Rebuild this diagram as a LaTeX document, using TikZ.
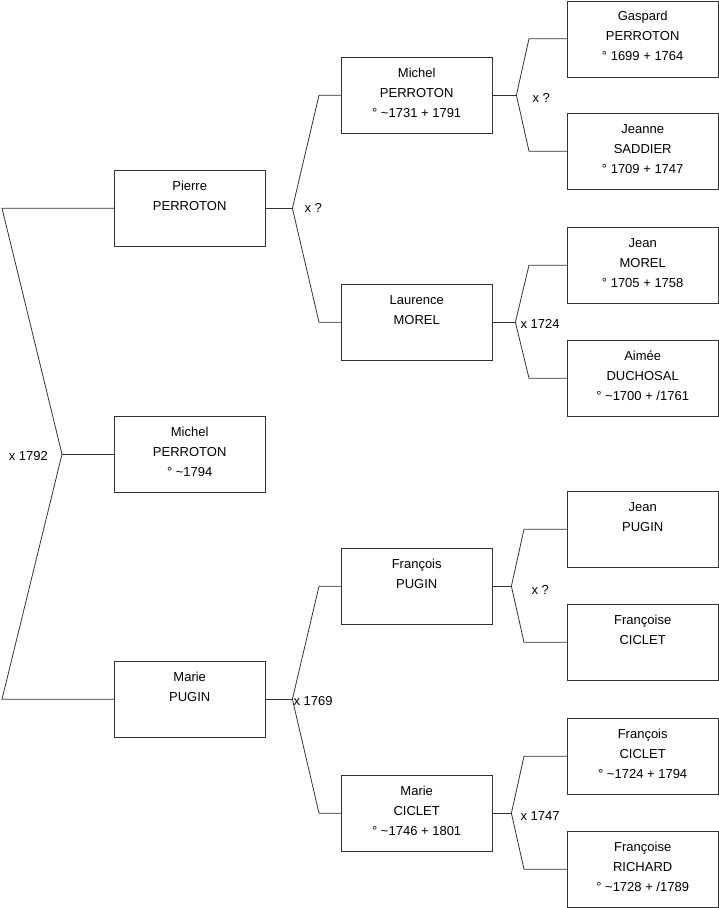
\documentclass[tikz,border=0pt]{standalone}
\usepackage{fontspec}
\setmainfont{Liberation Sans}
\usetikzlibrary{positioning,calc}
\tikzset{
  person/.style={rectangle, draw=black!80, fill=white, minimum width=151pt, minimum height=76pt,
    inner sep=0pt, align=center, anchor=north west, font=\fontsize{13}{20}\selectfont},
  link/.style={draw=black!80, line width=0.8pt},
  union/.style={font=\fontsize{13}{15}\selectfont, inner sep=0pt, anchor=west},
}

\begin{document}
\begin{tikzpicture}[x=1pt, y=-1pt]
  \useasboundingbox (0,0) rectangle (719,908);
  % child and parents
  \node[person] (pierre) at (114,170) {Pierre\\PERROTON\\\mbox{}\\[-15pt]};
  \node[person] (michel) at (114,416) {Michel\\PERROTON\\° \textasciitilde 1794\\[-15pt]};
  \node[person] (marie) at (114,661) {Marie\\PUGIN\\\mbox{}\\[-15pt]};
  % grandparents
  \node[person] (michelP) at (341,57) {Michel\\PERROTON\\° \textasciitilde 1731 + 1791\\[-15pt]};
  \node[person] (laurence) at (341,284) {Laurence\\MOREL\\\mbox{}\\[-15pt]};
  \node[person] (francoisP) at (341,548) {François\\PUGIN\\\mbox{}\\[-15pt]};
  \node[person] (marieC) at (341,775) {Marie\\CICLET\\° \textasciitilde 1746 + 1801\\[-15pt]};
  % great-grandparents
  \node[person] (gaspard) at (567,0.5) {Gaspard\\PERROTON\\° 1699 + 1764\\[-15pt]};
  \node[person] (jeanne) at (567,113) {Jeanne\\SADDIER\\° 1709 + 1747\\[-15pt]};
  \node[person] (jeanM) at (567,227) {Jean\\MOREL\\° 1705 + 1758\\[-15pt]};
  \node[person] (aimee) at (567,340) {Aimée\\DUCHOSAL\\° \textasciitilde 1700 + /1761\\[-15pt]};
  \node[person] (jeanP) at (567,491) {Jean\\PUGIN\\\mbox{}\\[-15pt]};
  \node[person] (francoiseC) at (567,604) {Françoise\\CICLET\\\mbox{}\\[-15pt]};
  \node[person] (francoisC) at (567,718) {François\\CICLET\\° \textasciitilde 1724 + 1794\\[-15pt]};
  \node[person] (francoiseR) at (567,831) {Françoise\\RICHARD\\° \textasciitilde 1728 + /1789\\[-15pt]};

  % forks
  \draw[link] (pierre.west) -- ++(-112,0) -- ($(michel.west)+(-52,0)$) coordinate (fRoot)
    -- ($(marie.west)+(-112,0)$) -- (marie.west);
  \draw[link] (fRoot) -- (michel.west);
  \node[union, anchor=east] (uRoot) at ($(fRoot)+(-14,2)$) {x 1792};

  \draw[link] (michelP.west) -- ++(-22,0) -- ($(pierre.east)+(27,0)$) coordinate (fPierre)
    -- ($(laurence.west)+(-22,0)$) -- (laurence.west);
  \draw[link] (pierre.east) -- (fPierre);
  \node[union] (uPierre) at ($(fPierre)+(12,0)$) {x ?};

  \draw[link] (francoisP.west) -- ++(-22,0) -- ($(marie.east)+(27,0)$) coordinate (fMarie)
    -- ($(marieC.west)+(-22,0)$) -- (marieC.west);
  \draw[link] (marie.east) -- (fMarie);
  \node[union] (uMarie) at ($(fMarie)+(1,2)$) {x 1769};

  \draw[link] (gaspard.west) -- ++(-38,0) -- ($(michelP.east)+(24,0)$) coordinate (fMichelP)
    -- ($(jeanne.west)+(-38,0)$) -- (jeanne.west);
  \draw[link] (michelP.east) -- (fMichelP);
  \node[union] (uMichelP) at ($(fMichelP)+(16,3)$) {x ?};

  \draw[link] (jeanM.west) -- ++(-38,0) -- ($(laurence.east)+(23,0)$) coordinate (fLaurence)
    -- ($(aimee.west)+(-38,0)$) -- (aimee.west);
  \draw[link] (laurence.east) -- (fLaurence);
  \node[union] (uLaurence) at ($(fLaurence)+(5,2)$) {x 1724};

  \draw[link] (jeanP.west) -- ++(-43,0) -- ($(francoisP.east)+(19,0)$) coordinate (fFrancoisP)
    -- ($(francoiseC.west)+(-43,0)$) -- (francoiseC.west);
  \draw[link] (francoisP.east) -- (fFrancoisP);
  \node[union] (uFrancoisP) at ($(fFrancoisP)+(20,4)$) {x ?};

  \draw[link] (francoisC.west) -- ++(-43,0) -- ($(marieC.east)+(19,0)$) coordinate (fMarieC)
    -- ($(francoiseR.west)+(-43,0)$) -- (francoiseR.west);
  \draw[link] (marieC.east) -- (fMarieC);
  \node[union] (uMarieC) at ($(fMarieC)+(9,3)$) {x 1747};
\end{tikzpicture}
\end{document}
